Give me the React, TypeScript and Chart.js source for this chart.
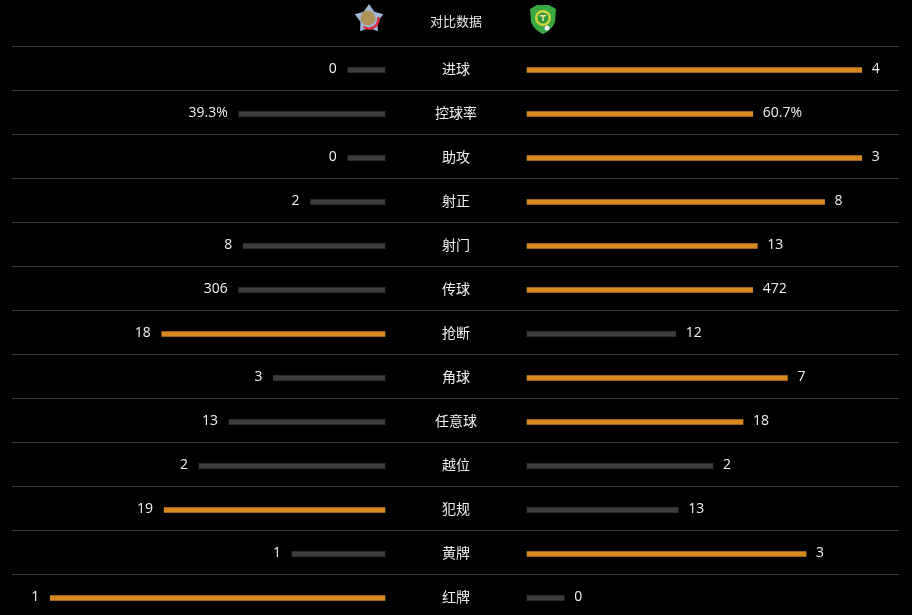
import React, { useEffect, useRef } from "react";
import { Chart, registerables } from "chart.js";

Chart.register(...registerables);

const categories = ["进球", "控球率", "助攻", "射正", "射门", "传球", "抢断", "角球", "任意球", "越位", "犯规", "黄牌", "红牌"];
const homeValues = [0, 39.3, 0, 2, 8, 306, 18, 3, 13, 2, 19, 1, 1];
const awayValues = [4, 60.7, 3, 8, 13, 472, 12, 7, 18, 2, 13, 3, 0];
const valueSuffix = ["", "%", "", "", "", "", "", "", "", "", "", "", ""];
const headerTitle = "对比数据";

const ORANGE = "#d6891f";
const GRAY = "#3c3c3c";
const HALF_GAP = 71;
const TOTAL = 372;
const MIN_SHARE = 0.1;

function shares(l: number, r: number): [number, number] {
  const s = l + r;
  if (s === 0) return [0.5, 0.5];
  if (l === 0) return [MIN_SHARE, 1 - MIN_SHARE];
  if (r === 0) return [1 - MIN_SHARE, MIN_SHARE];
  return [l / s, r / s];
}

const sharePairs = categories.map((_, i) => shares(homeValues[i], awayValues[i]));
const leftData = sharePairs.map(([sl]) => [-(HALF_GAP + sl * TOTAL), -HALF_GAP]);
const rightData = sharePairs.map(([, sr]) => [HALF_GAP, HALF_GAP + sr * TOTAL]);
const leftColors = categories.map((_, i) => (homeValues[i] > awayValues[i] ? ORANGE : GRAY));
const rightColors = categories.map((_, i) => (awayValues[i] > homeValues[i] ? ORANGE : GRAY));

function drawStar(ctx: CanvasRenderingContext2D, cx: number, cy: number) {
  ctx.save();
  ctx.beginPath();
  for (let k = 0; k < 10; k++) {
    const r = k % 2 === 0 ? 15 : 9;
    const a = -Math.PI / 2 + (k * Math.PI) / 5;
    const x = cx + r * Math.cos(a);
    const y = cy + r * Math.sin(a);
    if (k === 0) ctx.moveTo(x, y);
    else ctx.lineTo(x, y);
  }
  ctx.closePath();
  ctx.fillStyle = "#9cbbdc";
  ctx.fill();
  ctx.beginPath();
  ctx.arc(cx - 1, cy - 1, 7.5, 0, Math.PI * 2);
  ctx.fillStyle = "#b0935a";
  ctx.fill();
  ctx.beginPath();
  ctx.arc(cx, cy, 9.5, -0.2, Math.PI * 0.7);
  ctx.strokeStyle = "#d8323f";
  ctx.lineWidth = 2.5;
  ctx.stroke();
  ctx.restore();
}

function drawShield(ctx: CanvasRenderingContext2D, cx: number, cy: number) {
  ctx.save();
  ctx.beginPath();
  ctx.moveTo(cx - 13, cy - 10);
  ctx.lineTo(cx - 6, cy - 14);
  ctx.lineTo(cx + 6, cy - 14);
  ctx.lineTo(cx + 13, cy - 10);
  ctx.lineTo(cx + 12, cy + 3);
  ctx.quadraticCurveTo(cx + 9, cy + 11, cx, cy + 15);
  ctx.quadraticCurveTo(cx - 9, cy + 11, cx - 12, cy + 3);
  ctx.closePath();
  ctx.fillStyle = "#3aa843";
  ctx.fill();
  ctx.beginPath();
  ctx.arc(cx, cy - 1, 8, 0, Math.PI * 2);
  ctx.fillStyle = "#cfd23e";
  ctx.fill();
  ctx.beginPath();
  ctx.arc(cx, cy - 1, 5.5, 0, Math.PI * 2);
  ctx.fillStyle = "#2f9a3c";
  ctx.fill();
  ctx.fillStyle = "#e8e8a0";
  ctx.fillRect(cx - 3, cy - 4, 6, 1.5);
  ctx.fillRect(cx - 0.75, cy - 4, 1.5, 6);
  ctx.beginPath();
  ctx.arc(cx + 4, cy + 9, 2.5, 0, Math.PI * 2);
  ctx.fillStyle = "#f0f0f0";
  ctx.fill();
  ctx.restore();
}

const separatorPlugin = {
  id: "separators",
  beforeDatasetsDraw(chart: any) {
    const ctx: CanvasRenderingContext2D = chart.ctx;
    const ys = chart.scales.y;
    const area = chart.chartArea;
    const step = ys.getPixelForValue(1) - ys.getPixelForValue(0);
    ctx.save();
    ctx.strokeStyle = "#3e3e3e";
    ctx.lineWidth = 1;
    categories.forEach((_, i) => {
      const y = Math.round(ys.getPixelForValue(i) - step / 2 - 2) + 0.5;
      ctx.beginPath();
      ctx.moveTo(area.left, y);
      ctx.lineTo(area.right, y);
      ctx.stroke();
    });
    ctx.restore();
  },
};

const labelPlugin = {
  id: "labels",
  afterDatasetsDraw(chart: any) {
    const ctx: CanvasRenderingContext2D = chart.ctx;
    const xs = chart.scales.x;
    const ys = chart.scales.y;
    const cx = xs.getPixelForValue(0);
    ctx.save();
    ctx.textBaseline = "middle";
    ctx.fillStyle = "#e6e6e6";
    ctx.textAlign = "center";
    ctx.font = '13px "Noto Sans CJK SC"';
    ctx.fillText(headerTitle, cx, 21);
    drawStar(ctx, cx - 87, 19);
    drawShield(ctx, cx + 87, 19);
    categories.forEach((cat, i) => {
      const y = ys.getPixelForValue(i);
      ctx.fillStyle = "#f0f0f0";
      ctx.textAlign = "center";
      ctx.font = '14px "Noto Sans CJK SC"';
      ctx.fillText(cat, cx, y - 1);
      ctx.font = '14px "Open Sans"';
      ctx.textAlign = "right";
      ctx.fillText(String(homeValues[i]) + valueSuffix[i], xs.getPixelForValue(leftData[i][0]) - 11, y - 1);
      ctx.textAlign = "left";
      ctx.fillText(String(awayValues[i]) + valueSuffix[i], xs.getPixelForValue(rightData[i][1]) + 10, y - 1);
    });
    ctx.restore();
  },
};

export default function App() {
  const ref = useRef<HTMLCanvasElement>(null);
  useEffect(() => {
    if (!ref.current) return;
    const chart = new Chart(ref.current, {
      type: "bar",
      data: {
        labels: categories,
        datasets: [
          { data: leftData as any, backgroundColor: leftColors, barThickness: 5, grouped: false, borderWidth: 0, borderSkipped: false } as any,
          { data: rightData as any, backgroundColor: rightColors, barThickness: 5, grouped: false, borderWidth: 0, borderSkipped: false } as any,
        ],
      },
      options: {
        indexAxis: "y",
        responsive: false,
        animation: false,
        events: [],
        layout: { padding: { top: 48, left: 12, right: 13, bottom: 0 } },
        plugins: { legend: { display: false }, tooltip: { enabled: false } },
        scales: {
          x: { type: "linear", min: -444, max: 443, display: false },
          y: { type: "category", offset: true, display: false },
        },
      },
      plugins: [separatorPlugin, labelPlugin],
    });
    return () => chart.destroy();
  }, []);
  return (
    <div style={{ position: "fixed", left: 0, top: 0, width: 912, height: 615, background: "#000", overflow: "hidden" }}>
      <canvas ref={ref} width={912} height={620} style={{ display: "block" }} />
    </div>
  );
}
